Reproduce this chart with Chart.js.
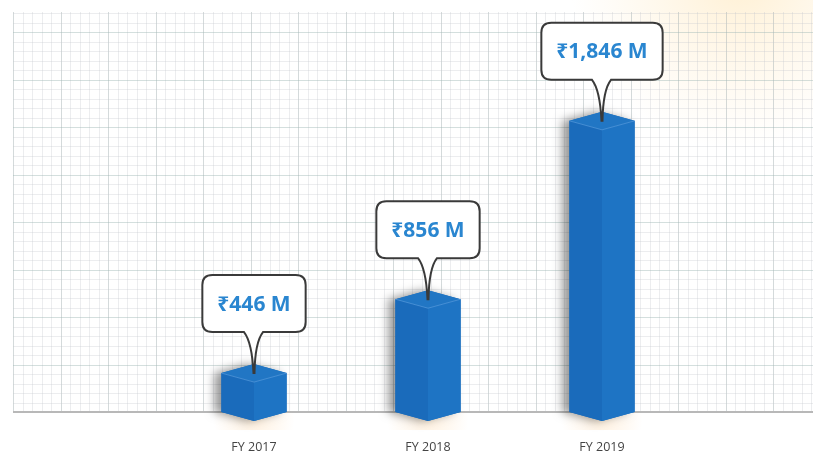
<!DOCTYPE html>
<html>
<head>
<meta charset="utf-8">
<script src="https://cdn.jsdelivr.net/npm/chart.js@4"></script>
<style>
  html, body { margin: 0; padding: 0; background: #fff; }
  #wrap { width: 813px; height: 458px; }
</style>
</head>
<body>
<div id="wrap"><canvas id="revChart" width="813" height="458"></canvas></div>
<script>
const categories = ["FY 2017", "FY 2018", "FY 2019"];
const revenue = [446, 856, 1846];
const valueLabels = ["₹446 M", "₹856 M", "₹1,846 M"];

// graph paper behind the bars
const paper = {
  id: "paper",
  beforeDraw(chart) {
    const { ctx, chartArea } = chart;
    const W = chart.width;
    const left = 13, top = 12, bottom = chartArea.bottom;
    const minor = 9.5;
    ctx.save();
    ctx.fillStyle = "#fff";
    ctx.fillRect(0, 0, W, chart.height);
    const glow = ctx.createRadialGradient(740, -20, 10, 740, -20, 170);
    glow.addColorStop(0, "rgba(255,215,140,0.35)");
    glow.addColorStop(1, "rgba(255,225,170,0)");
    ctx.fillStyle = glow;
    ctx.fillRect(0, 0, W, chart.height);
    ctx.lineWidth = 1;
    for (let i = 0; left + i * minor <= W; i++) {
      const x = Math.round(left + i * minor) + 0.5;
      ctx.strokeStyle = i % 5 === 0 ? "rgba(160,172,176,0.45)" : "rgba(195,198,205,0.32)";
      ctx.beginPath(); ctx.moveTo(x, top); ctx.lineTo(x, bottom); ctx.stroke();
    }
    for (let j = 0; bottom - j * minor >= top; j++) {
      const y = Math.round(bottom - j * minor) + 0.5;
      ctx.strokeStyle = j % 5 === 0 ? "rgba(160,185,182,0.45)" : "rgba(195,198,205,0.32)";
      ctx.beginPath(); ctx.moveTo(left, y); ctx.lineTo(W, y); ctx.stroke();
    }
    ctx.strokeStyle = "#b8b8b8";
    ctx.lineWidth = 2;
    ctx.beginPath(); ctx.moveTo(left, bottom); ctx.lineTo(W, bottom); ctx.stroke();
    ctx.restore();
  },
};

function roundRectPathWithTail(ctx, x0, y0, w, h, r, cx, tipY) {
  const x1 = x0 + w, y1 = y0 + h;
  ctx.beginPath();
  ctx.moveTo(x0 + r, y0);
  ctx.lineTo(x1 - r, y0);
  ctx.quadraticCurveTo(x1, y0, x1, y0 + r);
  ctx.lineTo(x1, y1 - r);
  ctx.quadraticCurveTo(x1, y1, x1 - r, y1);
  ctx.lineTo(cx + 9, y1);
  ctx.quadraticCurveTo(cx + 1, y1 + 10, cx + 0.5, tipY);
  ctx.lineTo(cx - 0.5, tipY);
  ctx.quadraticCurveTo(cx - 2, y1 + 10, cx - 10, y1);
  ctx.lineTo(x0 + r, y1);
  ctx.quadraticCurveTo(x0, y1, x0, y1 - r);
  ctx.lineTo(x0, y0 + r);
  ctx.quadraticCurveTo(x0, y0, x0 + r, y0);
  ctx.closePath();
}

// 3d prism bars + callouts, placed from the bar elements
const prisms = {
  id: "prisms",
  afterDatasetsDraw(chart) {
    const { ctx, chartArea } = chart;
    const meta = chart.getDatasetMeta(0);
    meta.data.forEach((bar, i) => {
      const cx = bar.x, y = bar.y, base = chartArea.bottom, hw = bar.width / 2, d = 9;
      ctx.save();
      // faint warm glow on the floor
      const g = ctx.createRadialGradient(cx, base + 8, 2, cx, base + 8, hw + 8);
      g.addColorStop(0, "rgba(255,195,120,0.22)");
      g.addColorStop(1, "rgba(255,195,120,0)");
      ctx.fillStyle = g;
      ctx.fillRect(cx - hw - 10, base, bar.width + 20, 18);
      // body with shadow to the left
      ctx.shadowColor = "rgba(0,0,0,0.4)";
      ctx.shadowBlur = 10;
      ctx.shadowOffsetX = -7;
      ctx.shadowOffsetY = 0;
      ctx.fillStyle = "#1b6cbd";
      ctx.beginPath();
      ctx.moveTo(cx - hw, y); ctx.lineTo(cx, y - d); ctx.lineTo(cx + hw, y);
      ctx.lineTo(cx + hw, base); ctx.lineTo(cx, base + d); ctx.lineTo(cx - hw, base);
      ctx.closePath(); ctx.fill();
      ctx.shadowColor = "rgba(0,0,0,0)";
      // left face
      ctx.fillStyle = "#1a6bbb";
      ctx.beginPath();
      ctx.moveTo(cx - hw, y); ctx.lineTo(cx, y + d); ctx.lineTo(cx, base + d); ctx.lineTo(cx - hw, base);
      ctx.closePath(); ctx.fill();
      // right face
      ctx.fillStyle = "#1e74c4";
      ctx.beginPath();
      ctx.moveTo(cx, y + d); ctx.lineTo(cx + hw, y); ctx.lineTo(cx + hw, base); ctx.lineTo(cx, base + d);
      ctx.closePath(); ctx.fill();
      // top
      ctx.fillStyle = "#2176c4";
      ctx.beginPath();
      ctx.moveTo(cx - hw, y); ctx.lineTo(cx, y - d); ctx.lineTo(cx + hw, y); ctx.lineTo(cx, y + d);
      ctx.closePath(); ctx.fill();
      ctx.strokeStyle = "rgba(110,170,230,0.5)";
      ctx.lineWidth = 1;
      ctx.beginPath();
      ctx.moveTo(cx - hw, y); ctx.lineTo(cx, y + d); ctx.lineTo(cx + hw, y);
      ctx.stroke();

      // callout
      ctx.font = "bold 21px 'Noto Sans', 'DejaVu Sans', sans-serif";
      const tw = ctx.measureText(valueLabels[i]).width;
      const bw = tw + 30, bh = 57;
      const tipY = y;
      const by = tipY - 41 - bh;
      const bx = cx - bw / 2;
      roundRectPathWithTail(ctx, bx, by, bw, bh, 10, cx, tipY);
      ctx.fillStyle = "#fff";
      ctx.fill();
      ctx.strokeStyle = "#3a3a3a";
      ctx.lineWidth = 2;
      ctx.stroke();
      ctx.fillStyle = "#2a86d0";
      ctx.textAlign = "center";
      ctx.textBaseline = "middle";
      ctx.fillText(valueLabels[i], cx, by + bh / 2 + 1);
      ctx.restore();
    });
  },
};

new Chart(document.getElementById("revChart"), {
  type: "bar",
  data: {
    labels: categories,
    datasets: [{
      data: revenue,
      backgroundColor: "rgba(0,0,0,0)",
      borderWidth: 0,
      barPercentage: 0.375,
      categoryPercentage: 1,
    }],
  },
  options: {
    responsive: false,
    animation: false,
    devicePixelRatio: 1,
    layout: { padding: { left: 167, right: 124, top: 12, bottom: 2 } },
    plugins: { legend: { display: false }, tooltip: { enabled: false } },
    scales: {
      x: {
        grid: { display: false, drawTicks: false },
        border: { display: false },
        ticks: { color: "#444", padding: 28, font: { family: "'Open Sans', sans-serif", size: 12.5 } },
        afterFit: (scale) => { scale.height = 44; },
      },
      y: { display: false, min: 230, max: 2450 },
    },
  },
  plugins: [paper, prisms],
});
</script>
</body>
</html>
